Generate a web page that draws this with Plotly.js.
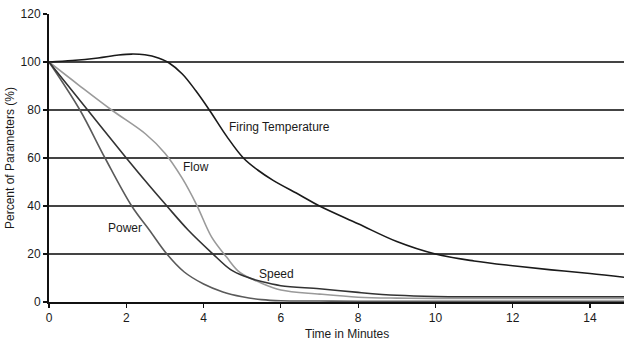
<!DOCTYPE html>
<html>
<head>
<meta charset="utf-8">
<script src="https://cdn.plot.ly/plotly-3.0.1.min.js"></script>
<style>html,body{margin:0;padding:0;background:#fff;}#chart{width:624px;height:342px;}</style>
</head>
<body>
<div id="chart"></div>
<script>
// Data
const fireX  = [0, 0.6, 1.27, 1.8, 2.14, 2.48, 2.83, 3.09, 3.45, 3.8, 4.15, 4.6, 5.03, 5.4, 5.8, 6.5, 7, 8, 9, 10, 11, 12, 13, 14, 14.9];
const fireY  = [100, 100.6, 101.7, 102.9, 103.3, 103, 101.7, 99.8, 95, 88, 80, 69, 60, 55, 50.7, 44.5, 40, 32.6, 25.2, 20, 17.1, 15.1, 13.4, 11.9, 10.3];

const flowX  = [0, 0.76, 1.62, 2.5, 3.0, 3.45, 3.82, 4.21, 4.6, 4.94, 5.46, 6, 7, 8, 9, 10, 12, 14.9];
const flowY  = [100, 90.5, 80, 70, 62, 51.5, 40.5, 27, 18.6, 12.3, 8.1, 5.0, 3.3, 2.0, 1.6, 1.5, 1.5, 1.5];

const speedX = [0, 1, 2, 2.61, 3.05, 3.6, 4.21, 4.7, 5.1, 5.5, 6, 7, 8, 9, 10, 12, 14.9];
const speedY = [100, 80, 60, 48.2, 40, 30, 20.5, 13.5, 10.5, 8.5, 6.8, 5.5, 4.0, 2.8, 2.3, 2.2, 2.2];

const powerX = [0, 0.8, 1.45, 2.14, 2.61, 3.05, 3.5, 4, 4.5, 5, 5.5, 6, 7, 8, 10, 12, 14.9];
const powerY = [100, 80, 60, 40, 29.7, 20, 12.5, 7.5, 4.2, 2.2, 1.0, 0.5, 0.4, 0.3, 0.3, 0.3, 0.3];

const labels = ['Firing Temperature', 'Flow', 'Speed', 'Power'];
const labelX = [4.6, 3.42, 5.38, 1.48];
const labelY = [73, 56.2, 11.5, 31];

const xTicks = [0, 2, 4, 6, 8, 10, 12, 14];
const yTicks = [0, 20, 40, 60, 80, 100, 120];

const fnt = {family: 'Arial, "Liberation Sans", sans-serif', size: 12, color: '#1a1a1a'};

function line(x, y, name, color) {
  return {x: x, y: y, name: name, type: 'scatter', mode: 'lines',
          line: {color: color, width: 1.6, shape: 'spline', smoothing: 1},
          hoverinfo: 'skip'};
}

const traces = [
  line(powerX, powerY, 'Power', '#5a5a5a'),
  line(flowX, flowY, 'Flow', '#9a9a9a'),
  line(speedX, speedY, 'Speed', '#333333'),
  line(fireX, fireY, 'Firing Temperature', '#1a1a1a')
];

const annotations = labels.map((t, i) => ({
  x: labelX[i], y: labelY[i], xref: 'x', yref: 'y', text: t,
  showarrow: false, xanchor: 'left', yanchor: 'middle', font: fnt
}));
annotations.push({
  x: 0.518, y: -0.111, xref: 'paper', yref: 'paper', text: 'Time in Minutes',
  showarrow: false, xanchor: 'center', yanchor: 'middle', font: fnt
});

const layout = {
  width: 624, height: 342,
  margin: {l: 49, r: 0, t: 14, b: 40, pad: 0},
  paper_bgcolor: '#fff', plot_bgcolor: '#fff',
  showlegend: false,
  font: fnt,
  xaxis: {
    range: [0, 14.88], tickvals: xTicks, ticktext: xTicks.map(String),
    showgrid: false, zeroline: false, showline: true, linecolor: '#111', linewidth: 2,
    ticks: 'outside', ticklen: 4, tickcolor: '#111', tickwidth: 1.2,
    tickfont: fnt, fixedrange: true
  },
  yaxis: {
    range: [0, 120], tickvals: yTicks, ticktext: yTicks.map(String),
    showgrid: true, gridcolor: '#444', gridwidth: 2,
    zeroline: false, showline: true, linecolor: '#111', linewidth: 2,
    ticks: 'outside', ticklen: 4, tickcolor: '#111', tickwidth: 1.2,
    tickfont: fnt, fixedrange: true,
    title: {text: 'Percent of Parameters (%)', font: fnt, standoff: 3}
  },
  annotations: annotations
};

Plotly.newPlot('chart', traces, layout, {displayModeBar: false, staticPlot: true});
</script>
</body>
</html>
